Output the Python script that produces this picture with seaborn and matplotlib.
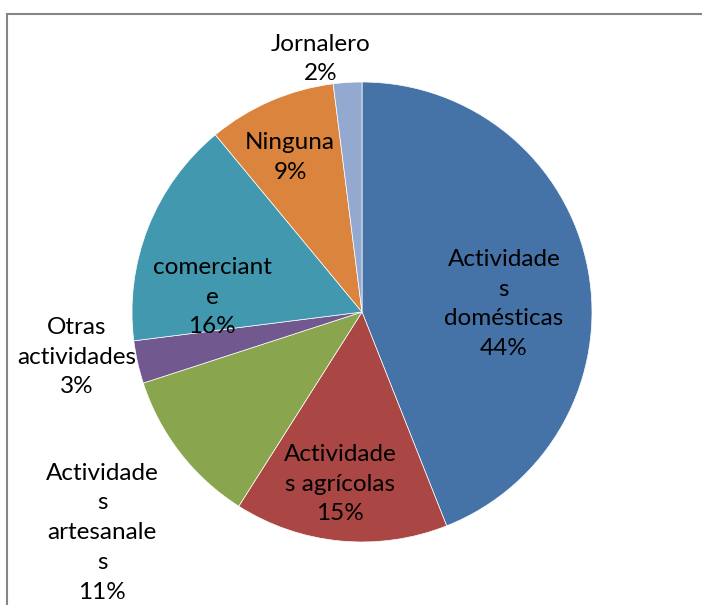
import matplotlib
matplotlib.use("Agg")
import matplotlib.pyplot as plt
import matplotlib.patches as mpatches
import seaborn as sns
import numpy as np

# datos del grafico (porcentajes, sentido horario desde las 12)
categorias = ["Actividades domésticas", "Actividades agrícolas", "Actividades artesanales",
              "Otras actividades", "comerciante", "Ninguna", "Jornalero"]
porcentajes = [44, 15, 11, 3, 16, 9, 2]
# textos tal como aparecen partidos en la imagen
etiquetas = ["Actividade\ns\ndomésticas", "Actividade\ns agrícolas", "Actividade\ns\nartesanale\ns",
             "Otras\nactividades", "comerciant\ne", "Ninguna", "Jornalero"]
colores = ["#4572A7", "#AA4643", "#89A54E", "#71588F", "#4198AF", "#DB843D", "#93A9CF"]

# posicion de cada etiqueta (en radios del pastel)
pos_etiquetas = [(0.617, 0.035), (-0.096, -0.748), (-1.13, -0.96), (-1.239, -0.196),
                 (-0.652, 0.065), (-0.313, 0.67), (-0.178, 1.10)]

sns.set_style("white")
plt.rcParams["font.family"] = ["Lato", "DejaVu Sans"]

fig = plt.figure(figsize=(7.02, 6.05), dpi=100)
fig.patch.set_facecolor("white")

# ejes ubicados para que el pastel quede donde esta en la imagen
W, H = 702, 605
cx, cy, r = 362, 312, 230
ax = fig.add_axes([(cx - r) / W, (H - cy - r) / H, 2 * r / W, 2 * r / H])

ax.pie(porcentajes, colors=sns.color_palette(colores), startangle=90, counterclock=False,
       radius=1, wedgeprops=dict(edgecolor="white", linewidth=0.5))
ax.set_xlim(-1, 1)
ax.set_ylim(-1, 1)
ax.set_aspect("equal")
ax.axis("off")

for txt, p, (x, y) in zip(etiquetas, porcentajes, pos_etiquetas):
    ax.text(x, y, f"{txt}\n{p}%", ha="center", va="center", fontsize=17.5,
            linespacing=1.52, color="black", clip_on=False)

# marco gris del area del grafico
marco = mpatches.Rectangle((7 / W, -0.1), 1.2, 1 - 14 / H + 0.1, transform=fig.transFigure,
                           fill=False, edgecolor="#868686", linewidth=1.5)
fig.patches.append(marco)

fig.savefig("out.png", dpi=100)
